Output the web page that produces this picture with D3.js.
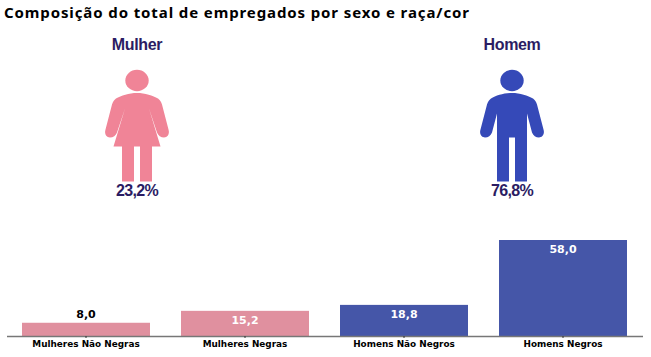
<!DOCTYPE html>
<html>
<head>
<meta charset="utf-8">
<script src="https://cdn.jsdelivr.net/npm/d3@7"></script>
<style>
  html, body { margin: 0; padding: 0; background: #fff; }
  svg { display: block; }
</style>
</head>
<body>
<div id="chart"></div>
<script>
const categories = ["Mulheres Não Negras", "Mulheres Negras", "Homens Não Negros", "Homens Negros"];
const values = [8.0, 15.2, 18.8, 58.0];
const barColors = ["#e0909f", "#e0909f", "#4556a8", "#4556a8"];

const sexNames = ["Mulher", "Homem"];
const sexShares = [23.2, 76.8];
const sexColors = ["#f08497", "#3549b8"];

const width = 651;
const height = 357;
const fmt = v => v.toFixed(1).replace(".", ",");

const svg = d3.select("#chart").append("svg")
    .attr("width", width)
    .attr("height", height);

// title
svg.append("text")
    .attr("x", 4)
    .attr("y", 18)
    .attr("textLength", 465)
    .attr("lengthAdjust", "spacing")
    .style("font-family", "'Noto Sans'")
    .style("font-weight", "bold")
    .style("font-size", "15px")
    .attr("fill", "#000")
    .text("Composição do total de empregados por sexo e raça/cor");

// pictograms, drawn around the figure's own centre
const womanBody = "M0,12.5 C-8,12.5 -16,15 -21,18 C-23,19.5 -24,21 -25,24 L-31.5,49 C-33,54 -30,57 -27,57 C-24,57 -21,55 -20,52 L-12,28 L-23.5,66 L-15,66 L-15,101 L-3,101 L-3,66 L3,66 L3,101 L15,101 L15,66 L23.5,66 L12,28 L20,52 C21,55 24,57 27,57 C30,57 33,54 31.5,49 L25,24 C24,21 23,19.5 21,18 C16,15 8,12.5 0,12.5 Z";
const manBody = "M0,12.5 C-8,12.5 -16,15 -21,18 C-23,19.5 -24,21 -25,24 L-31.5,49 C-33,54 -30,57 -27,57 C-24,57 -21,55 -20,52 L-15,33 L-15,101 L-3,101 L-3,57 L3,57 L3,101 L15,101 L15,33 L20,52 C21,55 24,57 27,57 C30,57 33,54 31.5,49 L25,24 C24,21 23,19.5 21,18 C16,15 8,12.5 0,12.5 Z";
const bodies = [womanBody, manBody];

const sexX = d3.scalePoint().domain(sexNames).range([137, 512]);

const figures = svg.selectAll("g.figure")
    .data(sexNames.map((name, i) => ({ name, share: sexShares[i], color: sexColors[i], body: bodies[i] })))
    .enter()
    .append("g")
    .attr("class", "figure")
    .attr("transform", d => `translate(${sexX(d.name)},0)`);

figures.append("text")
    .attr("y", 50)
    .attr("text-anchor", "middle")
    .style("font-family", "'Liberation Sans'")
    .style("font-weight", "bold")
    .style("font-size", "16px")
    .style("letter-spacing", "-0.35px")
    .attr("fill", "#2b1c63")
    .text(d => d.name);

figures.append("ellipse")
    .attr("cy", 80.5)
    .attr("rx", 11.7)
    .attr("ry", 10.7)
    .attr("fill", d => d.color);

figures.append("path")
    .attr("transform", "translate(0,80.5)")
    .attr("d", d => d.body)
    .attr("fill", d => d.color);

figures.append("text")
    .attr("y", 196)
    .attr("text-anchor", "middle")
    .style("font-family", "'Liberation Sans'")
    .style("font-weight", "bold")
    .style("font-size", "16px")
    .style("letter-spacing", "-0.7px")
    .attr("fill", "#2b1c63")
    .text(d => fmt(d.share) + "%");

// bars
const x = d3.scaleBand()
    .domain(categories)
    .range([6.5, 642.5])
    .paddingInner(31 / 159)
    .paddingOuter(15.5 / 159);

const y = d3.scaleLinear()
    .domain([0, 58])
    .range([336, 240]);

svg.selectAll("rect.bar")
    .data(values)
    .enter()
    .append("rect")
    .attr("class", "bar")
    .attr("x", (d, i) => x(categories[i]))
    .attr("y", d => y(d))
    .attr("width", x.bandwidth())
    .attr("height", d => y(0) - y(d))
    .attr("fill", (d, i) => barColors[i]);

// small bar keeps its label above, the others inside in white
svg.selectAll("text.value")
    .data(values)
    .enter()
    .append("text")
    .attr("class", "value")
    .attr("x", (d, i) => x(categories[i]) + x.bandwidth() / 2)
    .attr("y", (d, i) => i === 0 ? y(d) - 5 : y(d) + 13)
    .attr("text-anchor", "middle")
    .style("font-family", "'DejaVu Sans'")
    .style("font-weight", "bold")
    .style("font-size", "11px")
    .attr("fill", (d, i) => i === 0 ? "#000" : "#fff")
    .text(d => fmt(d));

const xAxis = svg.append("g")
    .attr("transform", `translate(0,${y(0)})`)
    .call(d3.axisBottom(x).tickSize(2).tickPadding(2.5).tickSizeOuter(0));

xAxis.select(".domain")
    .attr("stroke", "#777")
    .attr("stroke-width", 1.5);
xAxis.selectAll(".tick line").attr("stroke", "#333");
xAxis.selectAll(".tick text")
    .style("font-family", "'DejaVu Sans'")
    .style("font-weight", "bold")
    .style("font-size", "8.9px")
    .attr("fill", "#000");
</script>
</body>
</html>
